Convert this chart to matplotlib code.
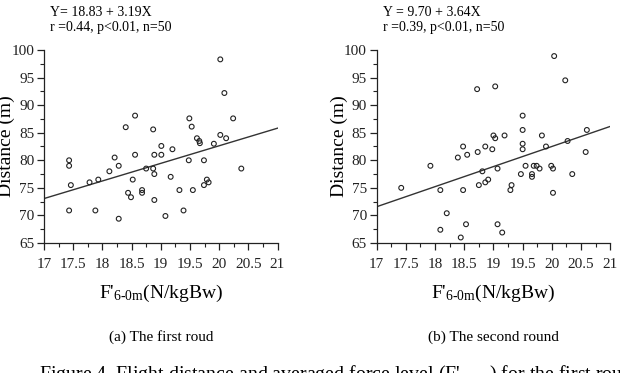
import matplotlib
matplotlib.use('Agg')
import matplotlib.pyplot as plt
from matplotlib.ticker import MultipleLocator
import numpy as np

plt.rcParams['font.family'] = ['Liberation Serif', 'DejaVu Serif']
plt.rcParams['mathtext.fontset'] = 'custom'
plt.rcParams['mathtext.rm'] = 'Liberation Serif'
plt.rcParams['mathtext.it'] = 'Liberation Serif:italic'
plt.rcParams['mathtext.bf'] = 'Liberation Serif:bold'

# Round 1 data: averaged force level (N/kgBw) vs flight distance (m)
force_r1 = [17.43, 17.43, 17.46, 17.43, 17.78, 17.93, 17.88, 18.12, 18.21, 18.28,
            18.28, 18.40, 18.44, 18.49, 18.52, 18.56, 18.68, 18.68, 18.75, 18.87,
            18.87, 18.89, 18.89, 18.89, 19.01, 19.01, 19.08, 19.17, 19.20, 19.32,
            19.39, 19.48, 19.53, 19.55, 19.62, 19.66, 19.67, 19.74, 19.74, 19.79,
            19.82, 19.91, 20.02, 20.12, 20.38, 20.02, 20.09, 20.24, 19.49, 18.56]
dist_r1 = [80.0, 79.0, 75.5, 70.9, 76.0, 76.5, 70.9, 78.0, 80.5, 79.0,
           69.4, 86.0, 74.1, 73.3, 76.5, 81.0, 74.6, 74.1, 78.5, 78.5,
           85.6, 77.5, 81.0, 72.8, 82.6, 81.0, 69.9, 77.0, 82.0, 74.6,
           70.9, 80.0, 86.1, 74.6, 84.0, 83.5, 83.1, 80.0, 75.5, 76.5,
           76.0, 83.0, 84.6, 84.0, 78.5, 98.3, 92.2, 87.6, 87.6, 88.1]

# Round 2 data
force_r2 = [17.42, 17.92, 18.09, 18.09, 18.20, 18.39, 18.44, 18.48, 18.48, 18.53,
            18.55, 18.73, 18.75, 18.81, 18.86, 18.86, 18.91, 18.98, 19.00, 19.03,
            19.07, 19.07, 19.15, 19.19, 19.29, 19.31, 19.47, 19.50, 19.50, 19.50,
            19.55, 19.66, 19.66, 19.69, 19.74, 19.79, 19.83, 19.90, 19.99, 20.02,
            20.02, 20.27, 20.35, 20.58, 20.60, 18.72, 19.03, 20.04, 20.23, 19.50]
dist_r2 = [75.0, 79.0, 74.6, 67.4, 70.4, 80.5, 66.0, 82.5, 74.6, 68.4,
           81.0, 81.5, 75.5, 78.0, 82.5, 76.0, 76.5, 82.0, 84.5, 84.0,
           68.4, 78.5, 66.9, 84.5, 74.6, 75.5, 77.5, 85.5, 83.0, 82.0,
           79.0, 77.5, 77.0, 79.0, 79.0, 78.5, 84.5, 82.5, 79.0, 78.5,
           74.1, 83.5, 77.5, 81.5, 85.5, 92.9, 93.4, 98.9, 94.5, 88.1]

intercepts = [18.83, 9.70]
slopes = [3.19, 3.64]
eq_texts = ["Y= 18.83 + 3.19X", "Y = 9.70 + 3.64X"]
stat_texts = ["r =0.44, p<0.01, n=50", "r =0.39, p<0.01, n=50"]
captions = ["(a) The first roud", "(b) The second round"]
y_ticks = [65, 70, 75, 80, 85, 90, 95, 100]
x_ticks = [17, 17.5, 18, 18.5, 19, 19.5, 20, 20.5, 21]
x_ticklabels = ["17", "17.5", "18", "18.5", "19", "19.5", "20", "20.5", "21"]

W, H = 620, 373
fig = plt.figure(figsize=(W / 100, H / 100), dpi=100)

lefts = [44, 376.7]
ax_w = 233.5
top_px, bot_px = 50, 243

xlabel = r"F'$_{\mathrm{6}\text{-}\mathrm{0m}}$(N/kgBw)"

for i, (fx, dy) in enumerate([(force_r1, dist_r1), (force_r2, dist_r2)]):
    ax = fig.add_axes([lefts[i] / W, (H - bot_px) / H, ax_w / W, (bot_px - top_px) / H])
    ax.scatter(fx, dy, s=12, facecolors='none', edgecolors='#222222', linewidths=0.8, zorder=3)
    xl = np.array([17, 21])
    ax.plot(xl, intercepts[i] + slopes[i] * xl, color='#333333', lw=1.0, zorder=2)
    ax.set_xlim(17, 21)
    ax.set_ylim(65, 100)
    ax.set_xticks(x_ticks)
    ax.set_xticklabels(x_ticklabels)
    ax.set_yticks(y_ticks)
    ax.xaxis.set_minor_locator(MultipleLocator(0.25))
    ax.yaxis.set_minor_locator(MultipleLocator(2.5))
    for s in ['top', 'right']:
        ax.spines[s].set_visible(False)
    for s in ['left', 'bottom']:
        ax.spines[s].set_linewidth(0.9)
        ax.spines[s].set_color('#222222')
    ax.tick_params(which='major', direction='out', length=5, width=0.9, labelsize=11, pad=2, colors='#222222')
    ax.tick_params(which='minor', direction='out', length=3, width=0.8, colors='#222222')
    ax.tick_params(axis='x', which='major', pad=6)
    ax.set_ylabel("Distance (m)", fontsize=14)
    ax.yaxis.set_label_coords(-0.125, 0.5)
    ax.set_xlabel(xlabel, fontsize=14, labelpad=8)
    fig.text((lefts[i] + 6) / W, 1 - 12 / H, eq_texts[i], fontsize=10, va='center', ha='left')
    fig.text((lefts[i] + 6) / W, 1 - 28 / H, stat_texts[i], fontsize=10, va='center', ha='left')
    fig.text((lefts[i] + ax_w / 2) / W, 1 - 337 / H, captions[i], fontsize=11, va='center', ha='center')

fig.text(39 / W, 1 - 363 / H,
         r"Figure 4. Flight distance and averaged force level (F'$_{\mathrm{6}\text{-}\mathrm{0m}}$) for the first round and the second round",
         fontsize=14.3, va='top', ha='left')

fig.savefig("out.png", dpi=100)
